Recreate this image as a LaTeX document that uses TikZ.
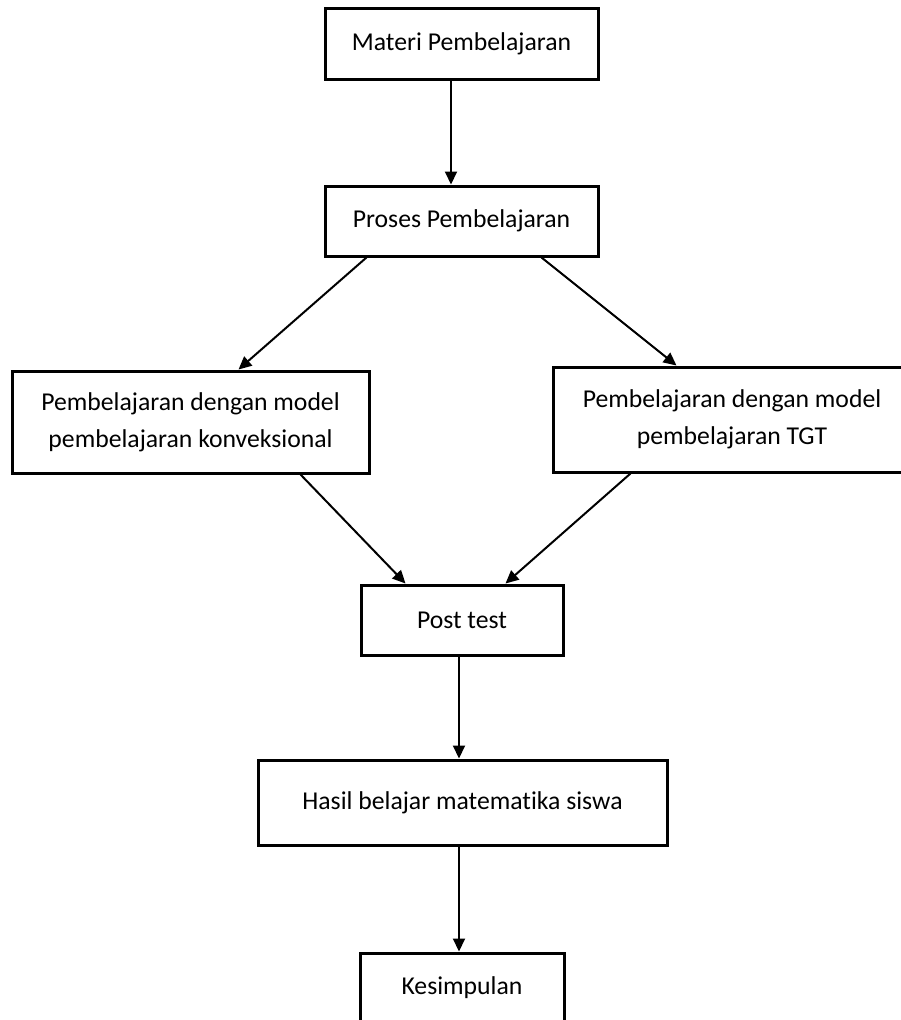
\documentclass[tikz,border=0pt]{standalone}
\usepackage{fontspec}
\setmainfont{Carlito}[Ligatures=NoCommon]
\usetikzlibrary{arrows.meta}
\begin{document}
\begin{tikzpicture}[x=1pt,y=-1pt,
  box/.style={draw=black, line width=3pt, inner sep=0pt, align=center,
    font=\fontsize{25.7}{37}\selectfont},
  conn/.style={line width=2pt, -{Triangle[length=13pt,width=12pt]}}]
\clip (0,0) rectangle (901,1020);
\useasboundingbox (0,0) rectangle (901,1020);
\node[box, minimum width=273pt, minimum height=71pt] (b1) at (461.5,43.5) {Materi Pembelajaran};
\node[box, minimum width=273pt, minimum height=70pt] (b2) at (461.5,221) {Proses Pembelajaran};
\node[box, minimum width=357pt, minimum height=102pt] (b3) at (190.5,422) {Pembelajaran dengan model\\pembelajaran konveksional};
\node[box, minimum width=358pt, minimum height=105pt] (b4) at (732,419.5) {Pembelajaran dengan model\\pembelajaran TGT};
\node[box, minimum width=202pt, minimum height=70pt] (b5) at (462,620) {Post test};
\node[box, minimum width=409pt, minimum height=85pt] (b6) at (462.5,802.5) {Hasil belajar matematika siswa};
\node[box, minimum width=204pt, minimum height=70pt] (b7) at (462,988) {Kesimpulan};
\draw[conn] ([xshift=-10.5pt]b1.south) -- ([xshift=-10.5pt]b2.north);
\draw[conn] ([xshift=43pt]b2.south west) -- ([xshift=228pt]b3.north west);
\draw[conn] ([xshift=218pt]b2.south west) -- ([xshift=125pt]b4.north west);
\draw[conn] ([xshift=290pt]b3.south west) -- ([xshift=46pt]b5.north west);
\draw[conn] ([xshift=79pt]b4.south west) -- ([xshift=146pt]b5.north west);
\draw[conn] ([xshift=-3pt]b5.south) -- ([xshift=-3.5pt]b6.north);
\draw[conn] ([xshift=-3.5pt]b6.south) -- ([xshift=-3pt]b7.north);
\end{tikzpicture}
\end{document}
